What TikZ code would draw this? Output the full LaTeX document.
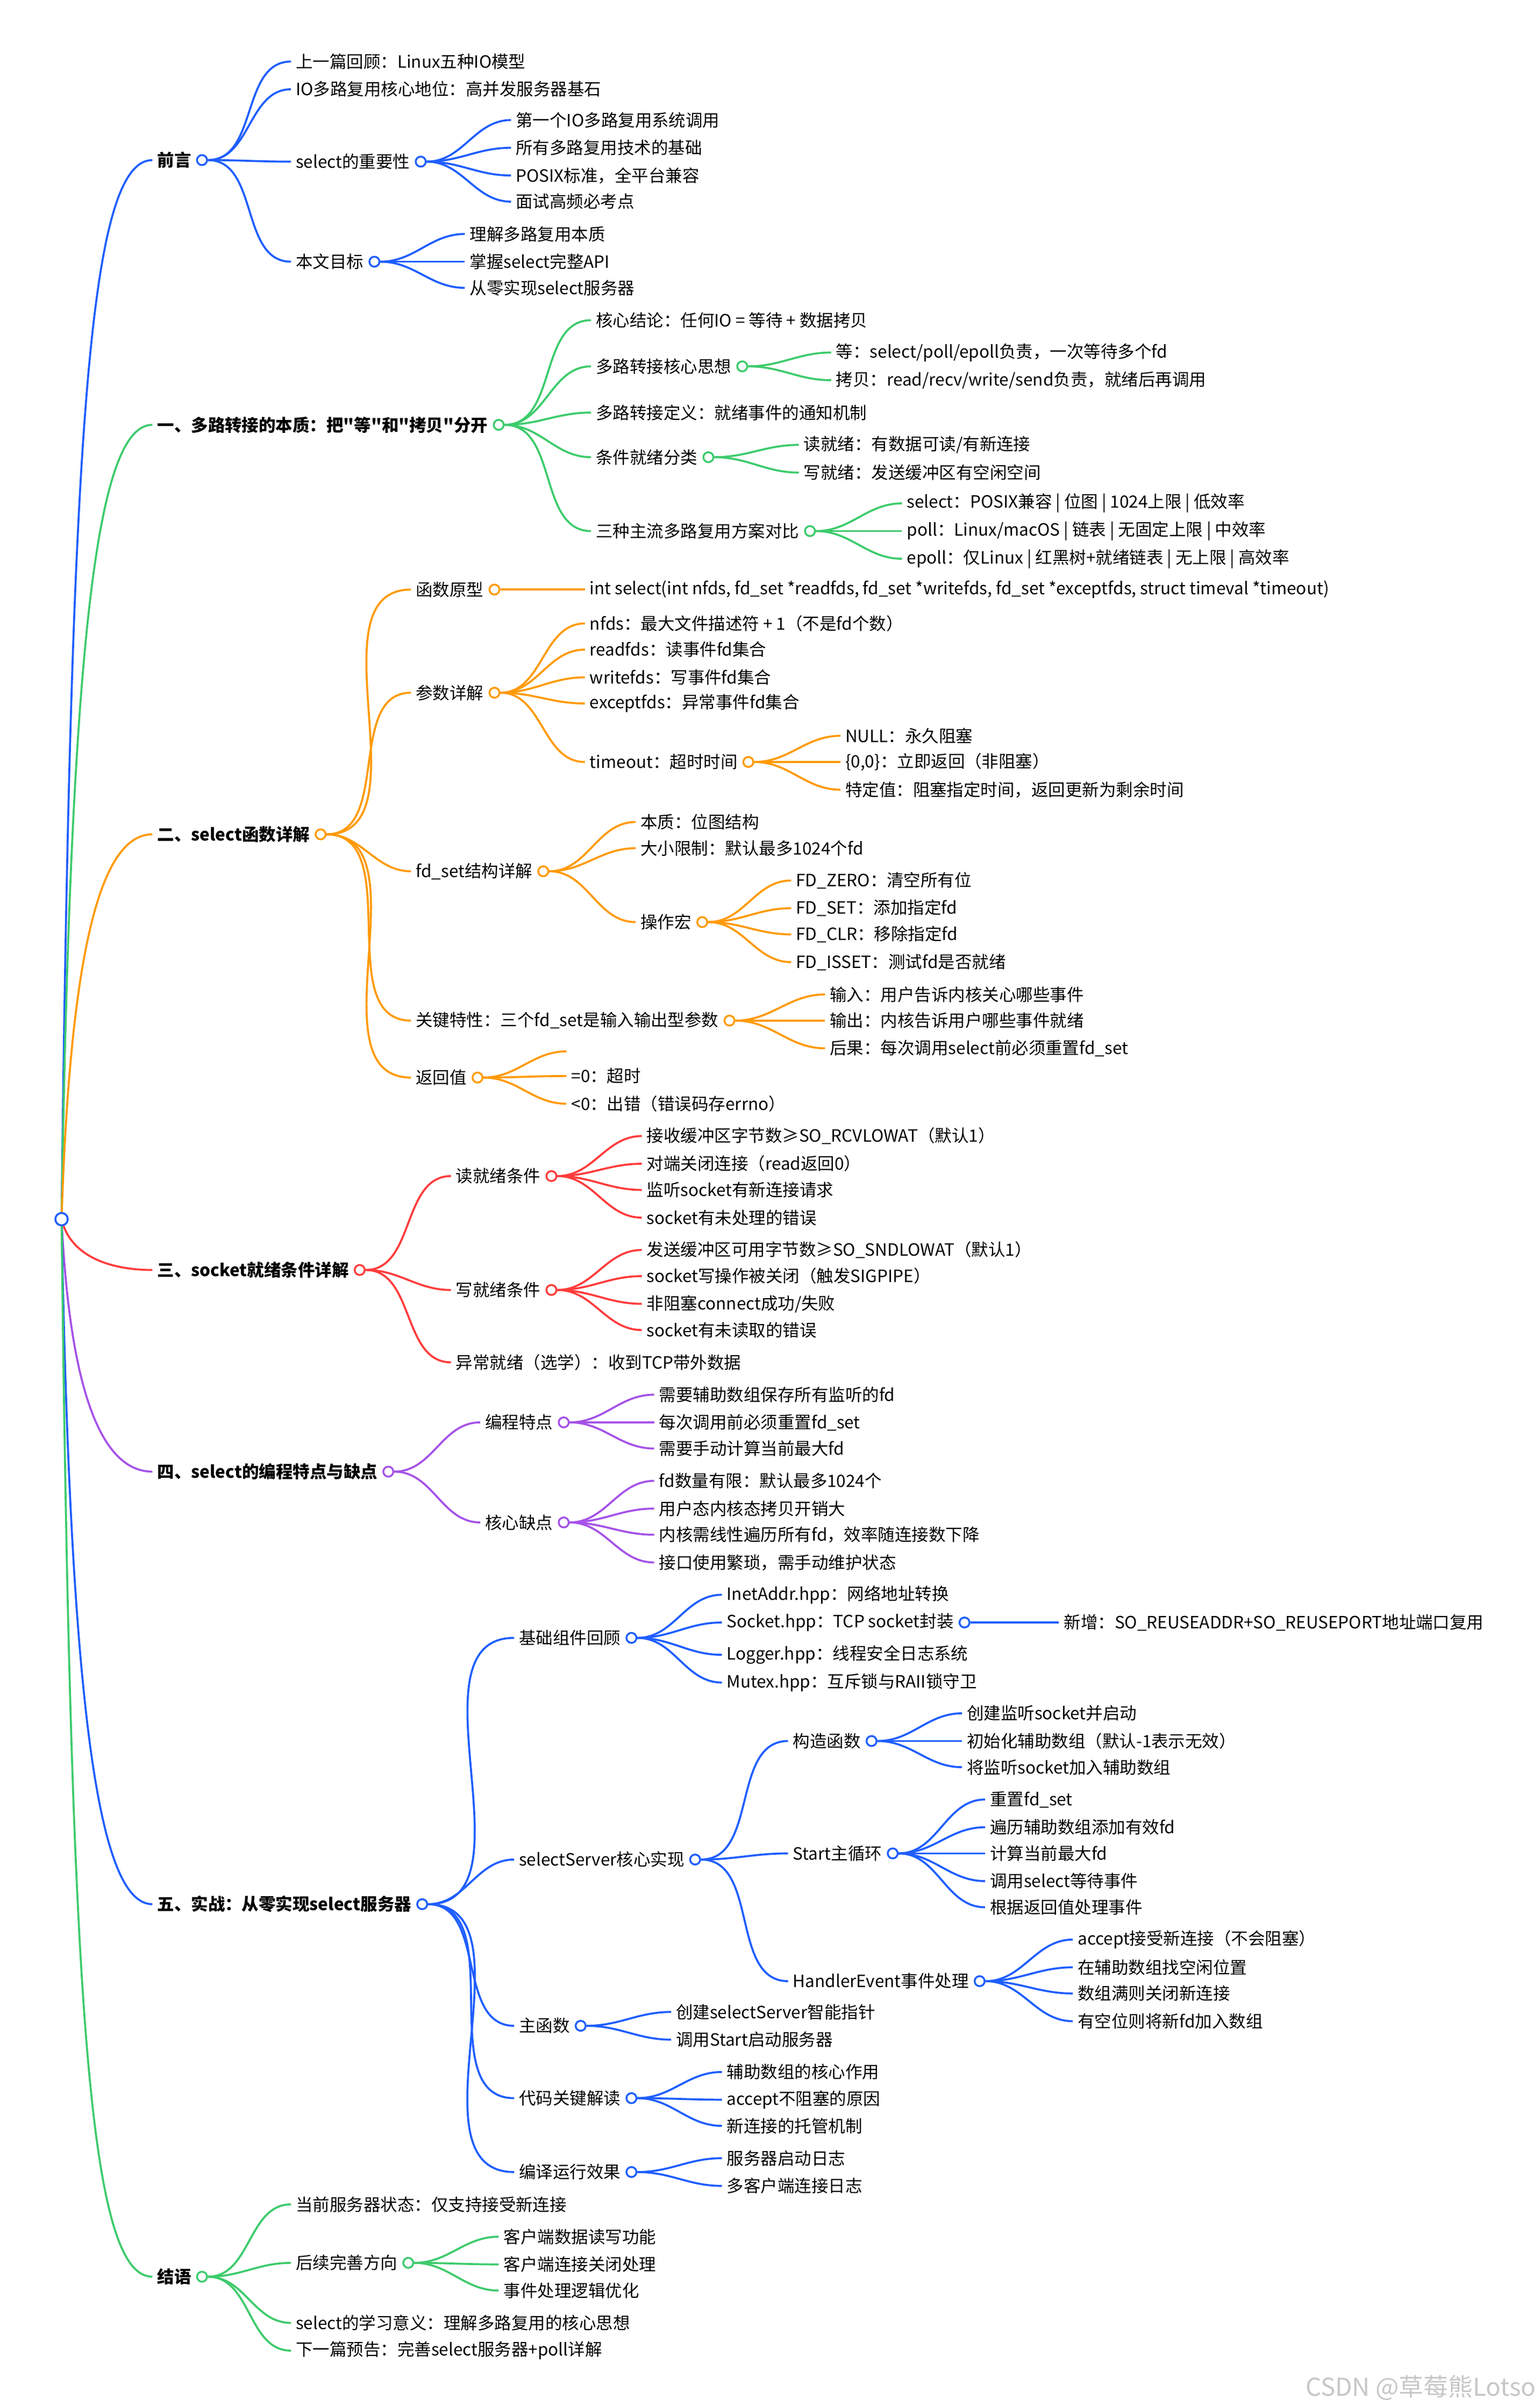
\documentclass[tikz,border=0pt]{standalone}
\usepackage{fontspec}
\setmainfont{Noto Sans CJK SC}
\newfontfamily\plainf{Noto Sans CJK SC}
\usetikzlibrary{positioning,calc}
\definecolor{cb}{HTML}{1F5EFF}
\definecolor{cg}{HTML}{3DCB6C}
\definecolor{co}{HTML}{FF9A05}
\definecolor{cr}{HTML}{FF3C3C}
\definecolor{cp}{HTML}{A552E8}
\tikzset{
 lbl/.style={inner sep=0pt,anchor=west,font=\fontsize{11}{13}\selectfont,text=black,yshift=1pt},
 top/.style={lbl,font=\fontsize{11}{13}\selectfont\bfseries},
 edge/.style={line width=1.3pt},
 dot/.style={circle,fill=white,line width=1.2pt,minimum size=6.5pt,inner sep=0pt},
}
\newcommand\mn[6]{\node[lbl] (#3) at (#4,#5) {#6};
 \draw[edge,#1] (#2.east) to[out=0,in=180] ([xshift=-3pt]#3.west);}
\newcommand\mt[5]{\node[top] (#2) at (102,#3) {#5};
 \draw[edge,#1] (root.center) .. controls (46,{792+(#3-792)*0.75}) and ($(#2.west)+(#4-102,0)$) .. ([xshift=-3pt]#2.west);}
\newcommand\md[2]{\node[dot,draw=#1,right=3pt of #2] (#2c) {};}
\newcommand\q{{\plainf\symbol{34}}}
\begin{document}
\begin{tikzpicture}[x=1pt,y=-1pt]
\useasboundingbox[fill=white] (0,0) rectangle (1000.5,1563);
\node[dot,draw=cb,minimum size=8pt] (root) at (40,792) {};
% ===== 前言
\mt{cb}{a}{105}{58}{前言}
\md{cb}{a}
\mn{cb}{ac}{a1}{192}{41}{上一篇回顾：Linux五种IO模型}
\mn{cb}{ac}{a2}{192}{59}{IO多路复用核心地位：高并发服务器基石}
\mn{cb}{ac}{a3}{192}{106}{select的重要性}
\md{cb}{a3}
\mn{cb}{a3c}{a31}{335}{79}{第一个IO多路复用系统调用}
\mn{cb}{a3c}{a32}{335}{97}{所有多路复用技术的基础}
\mn{cb}{a3c}{a33}{335}{115}{POSIX标准，全平台兼容}
\mn{cb}{a3c}{a34}{335}{132}{面试高频必考点}
\mn{cb}{ac}{a4}{192}{171}{本文目标}
\md{cb}{a4}
\mn{cb}{a4c}{a41}{305}{153}{理解多路复用本质}
\mn{cb}{a4c}{a42}{305}{171}{掌握select完整API}
\mn{cb}{a4c}{a43}{305}{188}{从零实现select服务器}
% ===== 一
\mt{cg}{b}{277}{64}{一、多路转接的本质：把\q 等\q 和\q 拷贝\q 分开}
\md{cg}{b}
\mn{cg}{bc}{b1}{387}{209}{核心结论：任何IO = 等待 + 数据拷贝}
\mn{cg}{bc}{b2}{387}{239}{多路转接核心思想}
\md{cg}{b2}
\mn{cg}{b2c}{b21}{543}{230}{等：select/poll/epoll负责，一次等待多个fd}
\mn{cg}{b2c}{b22}{543}{248}{拷贝：read/recv/write/send负责，就绪后再调用}
\mn{cg}{bc}{b3}{387}{269}{多路转接定义：就绪事件的通知机制}
\mn{cg}{bc}{b4}{387}{298}{条件就绪分类}
\md{cg}{b4}
\mn{cg}{b4c}{b41}{522}{290}{读就绪：有数据可读/有新连接}
\mn{cg}{b4c}{b42}{522}{308}{写就绪：发送缓冲区有空闲空间}
\mn{cg}{bc}{b5}{387}{346}{三种主流多路复用方案对比}
\md{cg}{b5}
\mn{cg}{b5c}{b51}{589}{328}{select：POSIX兼容 | 位图 | 1024上限 | 低效率}
\mn{cg}{b5c}{b52}{589}{346}{poll：Linux/macOS | 链表 | 无固定上限 | 中效率}
\mn{cg}{b5c}{b53}{589}{364}{epoll：仅Linux | 红黑树+就绪链表 | 无上限 | 高效率}
% ===== 二
\mt{co}{c}{543}{68}{二、select函数详解}
\md{co}{c}
\mn{co}{cc}{c1}{270}{384}{函数原型}
\md{co}{c1}
\mn{co}{c1c}{c11}{383}{384}{int select(int nfds, fd\_set *readfds, fd\_set *writefds, fd\_set *exceptfds, struct timeval *timeout)}
\mn{co}{cc}{c2}{270}{451}{参数详解}
\md{co}{c2}
\mn{co}{c2c}{c21}{383}{406}{nfds：最大文件描述符 + 1（不是fd个数）}
\mn{co}{c2c}{c22}{383}{423}{readfds：读事件fd集合}
\mn{co}{c2c}{c23}{383}{441}{writefds：写事件fd集合}
\mn{co}{c2c}{c24}{383}{458}{exceptfds：异常事件fd集合}
\mn{co}{c2c}{c25}{383}{496}{timeout：超时时间}
\md{co}{c25}
\mn{co}{c25c}{c251}{549}{479}{NULL：永久阻塞}
\mn{co}{c25c}{c252}{549}{496}{\{0,0\}：立即返回（非阻塞）}
\mn{co}{c25c}{c253}{549}{514}{特定值：阻塞指定时间，返回更新为剩余时间}
\mn{co}{cc}{c3}{270}{567}{fd\_set结构详解}
\md{co}{c3}
\mn{co}{c3c}{c31}{416}{535}{本质：位图结构}
\mn{co}{c3c}{c32}{416}{552}{大小限制：默认最多1024个fd}
\mn{co}{c3c}{c33}{416}{600}{操作宏}
\md{co}{c33}
\mn{co}{c33c}{c331}{517}{573}{FD\_ZERO：清空所有位}
\mn{co}{c33c}{c332}{517}{591}{FD\_SET：添加指定fd}
\mn{co}{c33c}{c333}{517}{608}{FD\_CLR：移除指定fd}
\mn{co}{c33c}{c334}{517}{626}{FD\_ISSET：测试fd是否就绪}
\mn{co}{cc}{c4}{270}{664}{关键特性：三个fd\_set是输入输出型参数}
\md{co}{c4}
\mn{co}{c4c}{c41}{539}{647}{输入：用户告诉内核关心哪些事件}
\mn{co}{c4c}{c42}{539}{664}{输出：内核告诉用户哪些事件就绪}
\mn{co}{c4c}{c43}{539}{682}{后果：每次调用select前必须重置fd\_set}
\mn{co}{cc}{c5}{270}{701}{返回值}
\md{co}{c5}
\coordinate (c50) at (368,683);
\draw[edge,co] (c5c.east) to[out=0,in=180] (c50);
\mn{co}{c5c}{c51}{371}{700}{=0：超时}
\mn{co}{c5c}{c52}{371}{718}{<0：出错（错误码存errno）}
% ===== 三
\mt{cr}{d}{826}{74}{三、socket就绪条件详解}
\md{cr}{d}
\mn{cr}{dc}{d1}{296}{765}{读就绪条件}
\md{cr}{d1}
\mn{cr}{d1c}{d11}{420}{739}{接收缓冲区字节数≥SO\_RCVLOWAT（默认1）}
\mn{cr}{d1c}{d12}{420}{757}{对端关闭连接（read返回0）}
\mn{cr}{d1c}{d13}{420}{774}{监听socket有新连接请求}
\mn{cr}{d1c}{d14}{420}{792}{socket有未处理的错误}
\mn{cr}{dc}{d2}{296}{839}{写就绪条件}
\md{cr}{d2}
\mn{cr}{d2c}{d21}{420}{813}{发送缓冲区可用字节数≥SO\_SNDLOWAT（默认1）}
\mn{cr}{d2c}{d22}{420}{830}{socket写操作被关闭（触发SIGPIPE）}
\mn{cr}{d2c}{d23}{420}{848}{非阻塞connect成功/失败}
\mn{cr}{d2c}{d24}{420}{865}{socket有未读取的错误}
\mn{cr}{dc}{d3}{296}{886}{异常就绪（选学）：收到TCP带外数据}
% ===== 四
\mt{cp}{e}{957}{70}{四、select的编程特点与缺点}
\md{cp}{e}
\mn{cp}{ec}{e1}{315}{925}{编程特点}
\md{cp}{e1}
\mn{cp}{e1c}{e11}{428}{907}{需要辅助数组保存所有监听的fd}
\mn{cp}{e1c}{e12}{428}{925}{每次调用前必须重置fd\_set}
\mn{cp}{e1c}{e13}{428}{942}{需要手动计算当前最大fd}
\mn{cp}{ec}{e2}{315}{990}{核心缺点}
\md{cp}{e2}
\mn{cp}{e2c}{e21}{428}{963}{fd数量有限：默认最多1024个}
\mn{cp}{e2c}{e22}{428}{981}{用户态内核态拷贝开销大}
\mn{cp}{e2c}{e23}{428}{998}{内核需线性遍历所有fd，效率随连接数下降}
\mn{cp}{e2c}{e24}{428}{1016}{接口使用繁琐，需手动维护状态}
% ===== 五
\mt{cb}{f}{1238}{66}{五、实战：从零实现select服务器}
\md{cb}{f}
\mn{cb}{fc}{f1}{337}{1065}{基础组件回顾}
\md{cb}{f1}
\mn{cb}{f1c}{f11}{472}{1037}{InetAddr.hpp：网络地址转换}
\mn{cb}{f1c}{f12}{472}{1055}{Socket.hpp：TCP socket封装}
\md{cb}{f12}
\mn{cb}{f12c}{f121}{691}{1055}{新增：SO\_REUSEADDR+SO\_REUSEPORT地址端口复用}
\mn{cb}{f1c}{f13}{472}{1076}{Logger.hpp：线程安全日志系统}
\mn{cb}{f1c}{f14}{472}{1094}{Mutex.hpp：互斥锁与RAII锁守卫}
\mn{cb}{fc}{f2}{337}{1209}{selectServer核心实现}
\md{cb}{f2}
\mn{cb}{f2c}{f21}{515}{1132}{构造函数}
\md{cb}{f21}
\mn{cb}{f21c}{f211}{628}{1114}{创建监听socket并启动}
\mn{cb}{f21c}{f212}{628}{1132}{初始化辅助数组（默认-1表示无效）}
\mn{cb}{f21c}{f213}{628}{1149}{将监听socket加入辅助数组}
\mn{cb}{f2c}{f22}{515}{1205}{Start主循环}
\md{cb}{f22}
\mn{cb}{f22c}{f221}{643}{1170}{重置fd\_set}
\mn{cb}{f22c}{f222}{643}{1188}{遍历辅助数组添加有效fd}
\mn{cb}{f22c}{f223}{643}{1205}{计算当前最大fd}
\mn{cb}{f22c}{f224}{643}{1223}{调用select等待事件}
\mn{cb}{f22c}{f225}{643}{1240}{根据返回值处理事件}
\mn{cb}{f2c}{f23}{515}{1288}{HandlerEvent事件处理}
\md{cb}{f23}
\mn{cb}{f23c}{f231}{700}{1261}{accept接受新连接（不会阻塞）}
\mn{cb}{f23c}{f232}{700}{1279}{在辅助数组找空闲位置}
\mn{cb}{f23c}{f233}{700}{1296}{数组满则关闭新连接}
\mn{cb}{f23c}{f234}{700}{1314}{有空位则将新fd加入数组}
\mn{cb}{fc}{f3}{337}{1317}{主函数}
\md{cb}{f3}
\mn{cb}{f3c}{f31}{439}{1308}{创建selectServer智能指针}
\mn{cb}{f3c}{f32}{439}{1326}{调用Start启动服务器}
\mn{cb}{fc}{f4}{337}{1364}{代码关键解读}
\md{cb}{f4}
\mn{cb}{f4c}{f41}{472}{1347}{辅助数组的核心作用}
\mn{cb}{f4c}{f42}{472}{1365}{accept不阻塞的原因}
\mn{cb}{f4c}{f43}{472}{1382}{新连接的托管机制}
\mn{cb}{fc}{f5}{337}{1412}{编译运行效果}
\md{cb}{f5}
\mn{cb}{f5c}{f51}{472}{1403}{服务器启动日志}
\mn{cb}{f5c}{f52}{472}{1421}{多客户端连接日志}
% ===== 结语
\mt{cg}{g}{1480}{58}{结语}
\md{cg}{g}
\mn{cg}{gc}{g1}{192}{1433}{当前服务器状态：仅支持接受新连接}
\mn{cg}{gc}{g2}{192}{1471}{后续完善方向}
\md{cg}{g2}
\mn{cg}{g2c}{g21}{327}{1454}{客户端数据读写功能}
\mn{cg}{g2c}{g22}{327}{1472}{客户端连接关闭处理}
\mn{cg}{g2c}{g23}{327}{1489}{事件处理逻辑优化}
\mn{cg}{gc}{g3}{192}{1510}{select的学习意义：理解多路复用的核心思想}
\mn{cg}{gc}{g4}{192}{1528}{下一篇预告：完善select服务器+poll详解}
% root circle on top
\node[dot,draw=cb,minimum size=8pt] (root2) at (root) {};
\node[inner sep=0pt,anchor=east,text=black!22,font=\fontsize{16}{18}\selectfont] (wm) at (998,1551) {CSDN @草莓熊Lotso};
\end{tikzpicture}
\end{document}
